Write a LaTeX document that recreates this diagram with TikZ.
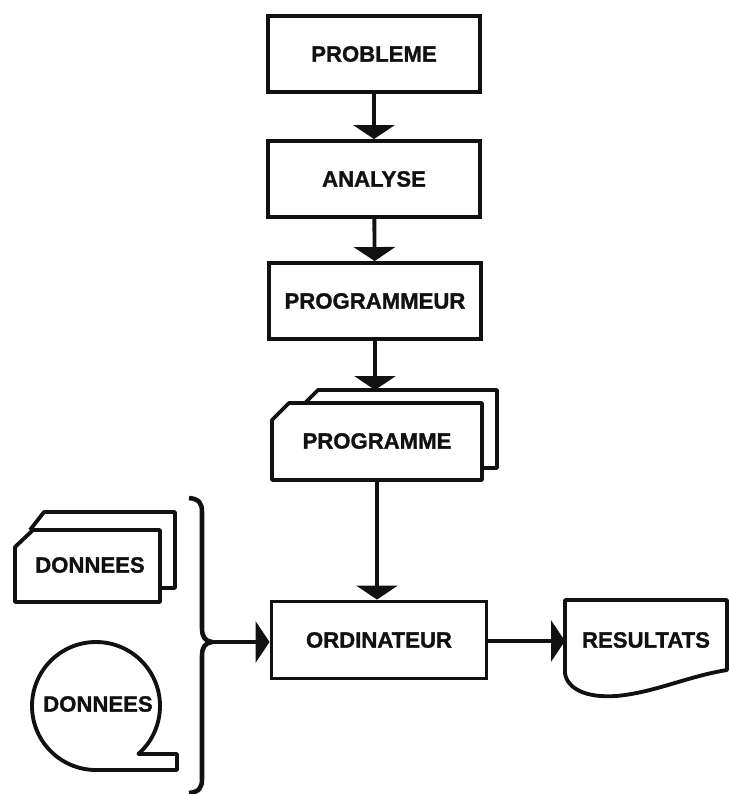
\documentclass[tikz,border=0pt]{standalone}
\usepackage{fontspec}
\setmainfont{Liberation Sans}
\newfontfamily\heavyfont{Liberation Sans Bold}[FakeBold=1.3]
\usepackage{xcolor}
\definecolor{inkBlack}{HTML}{111111}
\usepackage{tikz}
\usetikzlibrary{arrows.meta, positioning, calc}

\tikzset{
  flowbox/.style={draw=inkBlack, line width=2.2pt, rectangle,
    minimum width=212*0.02cm, minimum height=76*0.02cm, inner sep=0pt},
  flowtext/.style={inner sep=0pt, text=inkBlack,
    font=\fontsize{12.6}{15}\heavyfont},
  outline/.style={draw=inkBlack, line width=2.2pt, line join=round},
  flowarrow/.style={draw=inkBlack, line width=2.2pt,
    -{Triangle[width=0.82cm, length=0.28cm]}},
}

\begin{document}
\begin{tikzpicture}[x=0.02cm, y=-0.02cm]
\useasboundingbox (0,0) rectangle (728,794);

% main chain
\node[flowbox, flowtext] (prob) at (374,54) {PROBLEME};
\node[flowbox, flowtext] (anal) at (374,179) {ANALYSE};
\node[flowbox, flowtext] (progr) at (375,301) {PROGRAMMEUR};

% programme (card stack)
\draw[outline] (305,403) -- (318,390) -- (497,390) -- (497,468) -- (482,468);
\draw[outline] (272,420) -- (289,403) -- (482,403) -- (482,480) -- (272,480) -- cycle;
\node[flowtext] (prgm) at (377,441) {PROGRAMME};
\coordinate (prgmtop) at (375,390);
\coordinate (prgmbot) at (377,480);

\node[flowbox, flowtext, minimum width=215*0.02cm, minimum height=77*0.02cm] (ordi) at (379,640) {ORDINATEUR};

% resultats (document)
\draw[outline] (565,600) -- (727,600) -- (727,670)
  .. controls (690,676) and (660,690) .. (625,695)
  .. controls (590,700) and (567,690) .. (565,673) -- cycle;
\node[flowtext] (res) at (646,640) {RESULTATS};
\coordinate (resin) at (565,641);

% donnees (cards)
\draw[outline] (30,530) -- (44,512) -- (175,512) -- (175,588) -- (160,588);
\draw[outline] (15,547) -- (33,530) -- (160,530) -- (160,602) -- (15,602) -- cycle;
\node[flowtext] (card) at (90,565) {DONNEES};

% donnees (tape)
\draw[outline] (96,706) ++(48.5:64) arc[start angle=48.5, end angle=-270, radius=64]
  -- (177,770) -- (177,754) -- cycle;
\node[flowtext] (tape) at (98,704) {DONNEES};

% brace
\draw[outline, line width=2.6pt]
  (189,498) .. controls (199,499) and (202,503) .. (202,512) -- (202,628)
  .. controls (202,637) and (205,641) .. (212,642)
  .. controls (205,643) and (202,647) .. (202,656) -- (202,779)
  .. controls (202,788) and (199,792) .. (189,793);
\coordinate (brace) at (212,642);

% connectors
\draw[flowarrow] (prob) -- (anal);
\draw[flowarrow] (anal) -- (progr);
\draw[flowarrow] (progr.south) -- (prgmtop);
\draw[flowarrow] (prgmbot) -- (ordi.north -| prgmbot);
\draw[flowarrow] (brace) -- (brace -| ordi.west);
\draw[flowarrow] (ordi.east |- resin) -- (resin);
\end{tikzpicture}
\end{document}
